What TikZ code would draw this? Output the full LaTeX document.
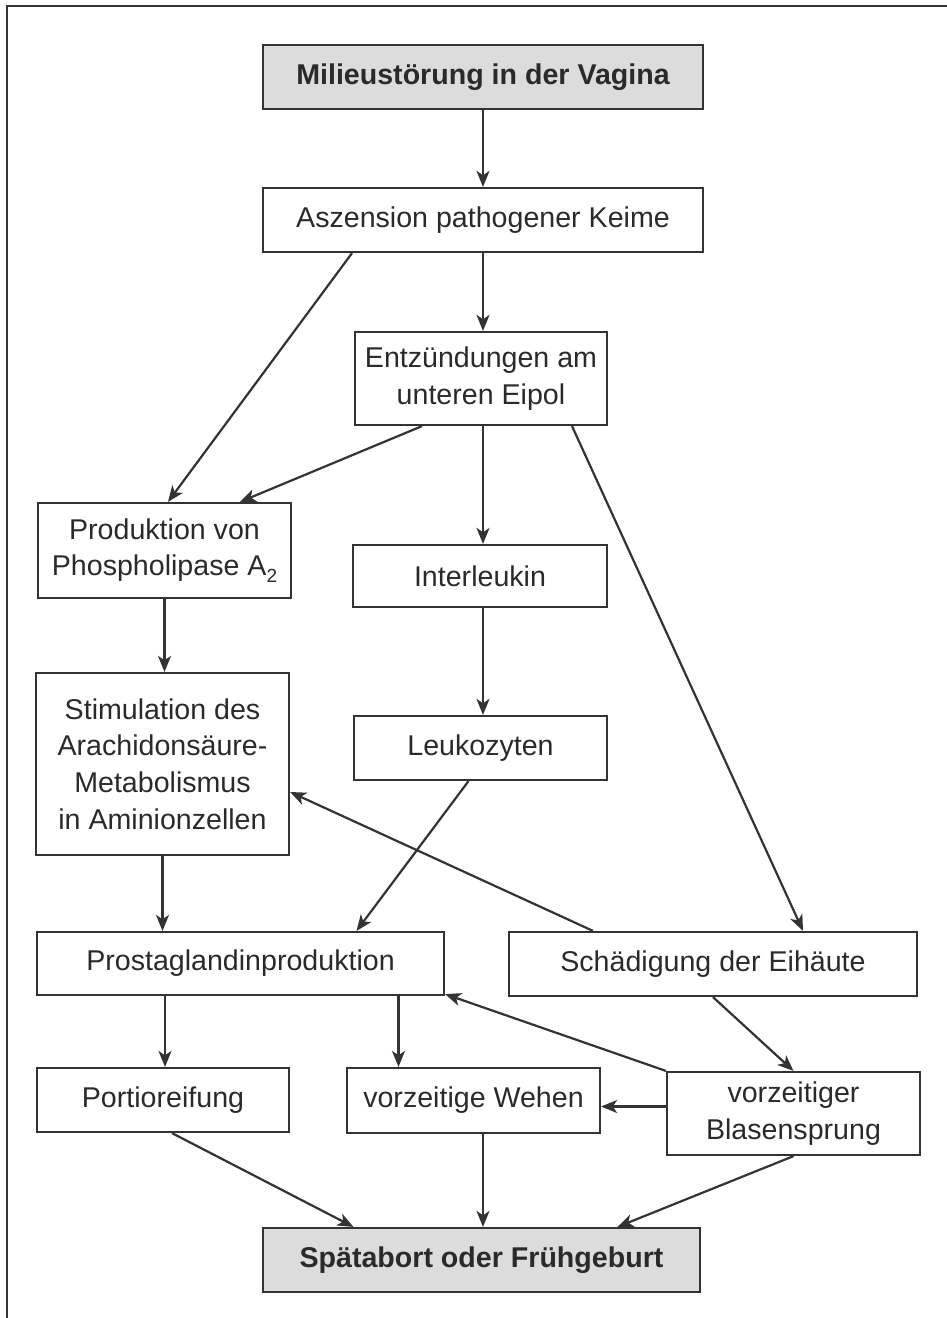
\documentclass[tikz,border=0pt]{standalone}
\usepackage{fontspec}
\setmainfont{Liberation Sans}
\usetikzlibrary{arrows.meta}
\definecolor{ln}{HTML}{333333}
\definecolor{tx}{HTML}{2A2A2A}
\definecolor{gr}{HTML}{DCDCDC}
\tikzset{
  bx/.style={draw=ln, line width=1.1pt, text=tx, align=center, inner sep=0pt,
    font=\fontsize{14.3}{18.4}\selectfont},
  grbx/.style={bx, fill=gr, font=\fontsize{14.3}{18.4}\selectfont\bfseries},
  arr/.style={draw=ln, line width=1.1pt, -{Stealth[length=8pt,width=6.5pt,inset=2.2pt]}},
  frame/.style={draw=ln, line width=1.3pt}
}
\begin{document}
\begin{tikzpicture}[x=0.5pt,y=-0.5pt]
\useasboundingbox (0,0) rectangle (947,1318);
\draw[frame] (7,1318) -- (7,6) -- (947,6);
% nodes (centers in px, sizes in pt = px/2)
\node[grbx, minimum width=220pt, minimum height=32pt] (mil) at (483,77) {Milieustörung in der Vagina};
\node[bx, minimum width=220pt, minimum height=32pt] (asz) at (483,220) {Aszension pathogener Keime};
\node[bx, minimum width=126pt, minimum height=46.5pt] (ent) at (481,378.5) {Entzündungen am\\unteren Eipol};
\node[bx, minimum width=126.5pt, minimum height=47.5pt] (pro) at (164.5,550.5) {Produktion von\\Phospholipase A\raisebox{-0.45ex}{\fontsize{9.5}{10}\selectfont 2}};
\node[bx, minimum width=127pt, minimum height=31pt] (int) at (480,576) {Interleukin};
\node[bx, minimum width=126.5pt, minimum height=91pt] (sti) at (162.5,764) {Stimulation des\\Arachidonsäure-\\Metabolismus\\in Aminionzellen};
\node[bx, minimum width=126.5pt, minimum height=32pt] (leu) at (480.5,748) {Leukozyten};
\node[bx, minimum width=203.5pt, minimum height=31.5pt] (pgl) at (240.5,963.5) {Prostaglandinproduktion};
\node[bx, minimum width=204pt, minimum height=32pt] (sch) at (713,964) {Schädigung der Eihäute};
\node[bx, minimum width=126pt, minimum height=32pt] (por) at (163,1100) {Portioreifung};
\node[bx, minimum width=126.5pt, minimum height=32.5pt] (weh) at (473.5,1100.5) {vorzeitige Wehen};
\node[bx, minimum width=126.5pt, minimum height=41.5pt] (bla) at (793.5,1113.5) {vorzeitiger\\Blasensprung};
\node[grbx, minimum width=218.5pt, minimum height=32pt] (spa) at (481.5,1260) {Spätabort oder Frühgeburt};
% connectors
\draw[arr] (mil.south) -- (asz.north);
\draw[arr] ([xshift=-65.5pt]asz.south) -- ([xshift=1.75pt]pro.north);
\draw[arr] (asz.south) -- (asz.south |- ent.north);
\draw[arr] ([xshift=-29.5pt]ent.south) -- ([xshift=37.75pt]pro.north);
\draw[arr] ([xshift=1pt]ent.south) coordinate (e1) -- (e1 |- int.north);
\draw[arr] ([xshift=45.5pt]ent.south) -- ([xshift=45pt]sch.north);
\draw[arr] (pro.south) -- (pro.south |- sti.north);
\draw[arr] ([xshift=1.5pt]int.south) coordinate (i1) -- (i1 |- leu.north);
\draw[arr] ([xshift=-6pt]leu.south) -- ([xshift=58pt]pgl.north);
\draw[arr] ([xshift=-60pt]sch.north) -- ([yshift=-14pt]sti.east);
\draw[arr] (sti.south) coordinate (s1) -- (s1 |- pgl.north);
\draw[arr] ([xshift=-37.75pt]pgl.south) coordinate (p1) -- (p1 |- por.north);
\draw[arr] ([xshift=79pt]pgl.south) coordinate (p2) -- (p2 |- weh.north);
\draw[arr] (bla.north west) -- ([yshift=1pt]pgl.south east);
\draw[arr] (sch.south) -- (bla.north);
\draw[arr] ([yshift=3.5pt]bla.west) coordinate (b1) -- (b1 -| weh.east);
\draw[arr] ([xshift=4.5pt]por.south) -- ([xshift=-64pt]spa.north);
\draw[arr] ([xshift=4.75pt]weh.south) coordinate (w1) -- (w1 |- spa.north);
\draw[arr] (bla.south) -- ([xshift=68pt]spa.north);
\end{tikzpicture}
\end{document}
